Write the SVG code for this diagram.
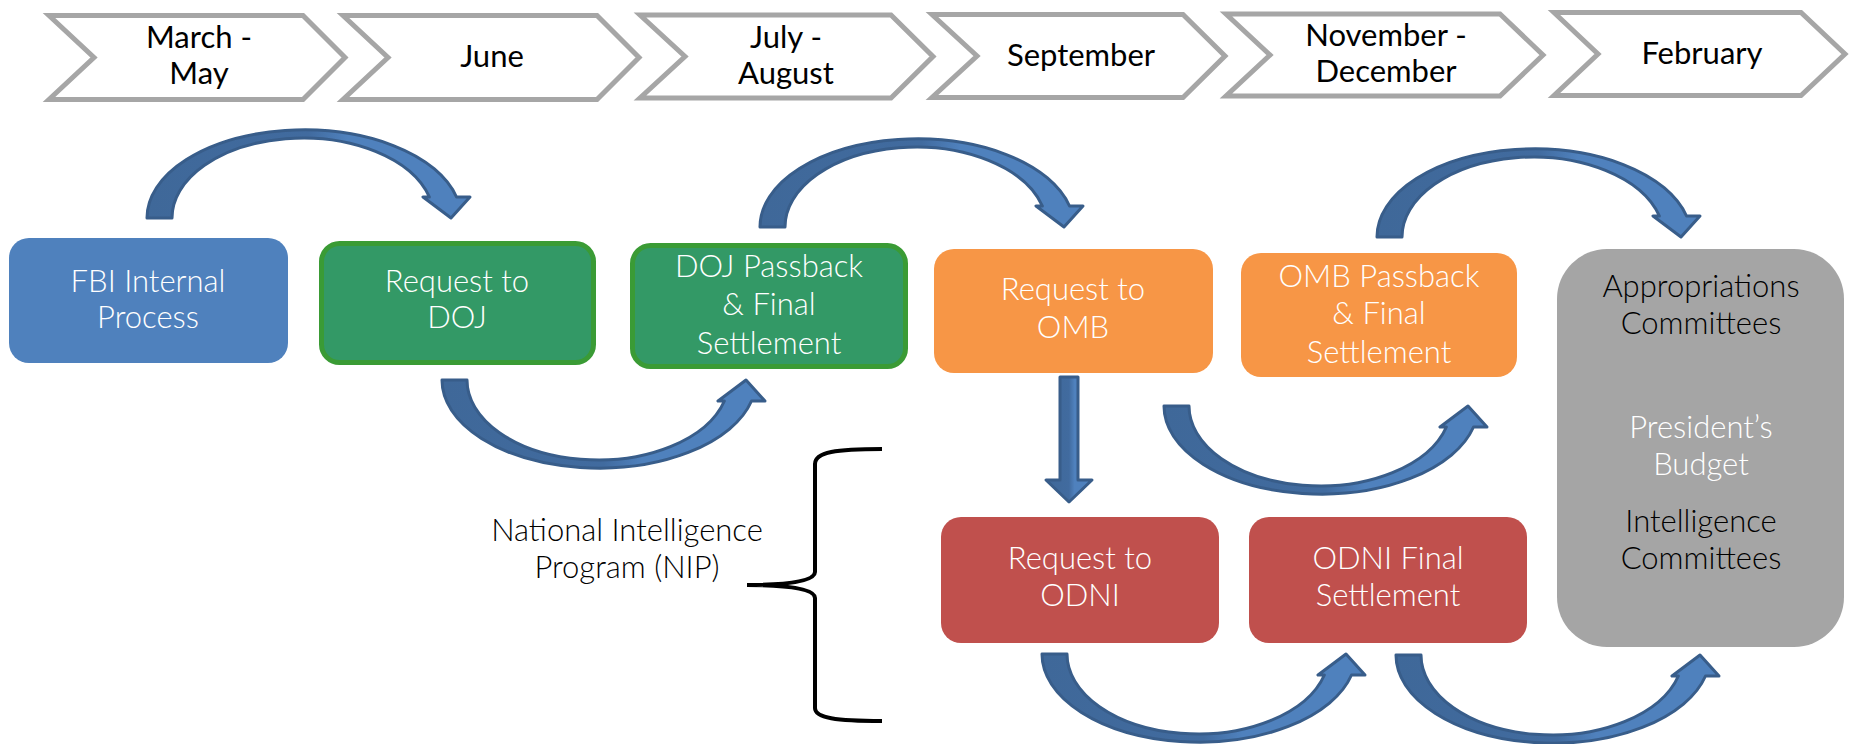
<svg xmlns="http://www.w3.org/2000/svg" xmlns:xlink="http://www.w3.org/1999/xlink" width="1854" height="744" viewBox="0 0 1854 744">
<style>
.chev{fill:#ffffff;stroke:#a6a6a6;stroke-width:5;stroke-linejoin:miter}
.ct{font-family:Lato,"Open Sans",sans-serif;font-size:31px;fill:#000000;text-anchor:middle;font-weight:400}
.wt{font-family:Lato,"Open Sans",sans-serif;font-size:31px;fill:#ffffff;text-anchor:middle;font-weight:300}
.bt{font-family:Lato,"Open Sans",sans-serif;font-size:31px;fill:#000000;text-anchor:middle;font-weight:300}
.blue{fill:#4f81bd}
.green{fill:#339966;stroke:#3a9b35;stroke-width:5}
.orange{fill:#f79646}
.red{fill:#c0504d}
.gray{fill:#a5a5a5}
.arr{fill:url(#arrGrad);stroke:#385d8a;stroke-width:3;stroke-linejoin:round}
.brace{fill:none;stroke:#000000;stroke-width:4}
</style>
<defs>
<linearGradient id="arrGrad" x1="0" y1="0" x2="1" y2="0">
<stop offset="0" stop-color="#3f6899"/>
<stop offset="0.5" stop-color="#416b9f"/>
<stop offset="0.62" stop-color="#4f81bd"/>
<stop offset="1" stop-color="#4f81bd"/>
</linearGradient>
<path id="curve" class="arr" d="M0,0 A157,88 0 0 1 309.5,-21 L323,-21 L304,0 L276,-21 L282.4,-21 A131,80 0 0 0 25,0 Z"/>
</defs>
<rect x="0" y="0" width="1854" height="744" fill="#ffffff"/>

<g id="timeline">
<g id="chev-march"><polygon class="chev" points="49,15.5 303,15.5 345,57.5 303,99.5 49,99.5 94,57.5"/><text class="ct" x="199" y="48">March -</text><text class="ct" x="199" y="84">May</text></g>
<g id="chev-june"><polygon class="chev" points="343,15.5 597,15.5 639,57.5 597,99.5 343,99.5 388,57.5"/><text class="ct" x="492" y="67">June</text></g>
<g id="chev-july"><polygon class="chev" points="640,15 891,15 933,56.5 891,98 640,98 685,56.5"/><text class="ct" x="786" y="48">July -</text><text class="ct" x="786" y="84">August</text></g>
<g id="chev-sept"><polygon class="chev" points="932,14.5 1183,14.5 1225,56 1183,97.5 932,97.5 977,56"/><text class="ct" x="1081" y="66">September</text></g>
<g id="chev-nov"><polygon class="chev" points="1226,14 1500,14 1543,55 1500,96 1226,96 1270,55"/><text class="ct" x="1386" y="46">November -</text><text class="ct" x="1386" y="82">December</text></g>
<g id="chev-feb"><polygon class="chev" points="1554,12.5 1801,12.5 1845,54 1801,95.5 1554,95.5 1598,54"/><text class="ct" x="1702" y="64">February</text></g>
</g>

<g id="connectors">
<use xlink:href="#curve" transform="translate(147,218)"/>
<use xlink:href="#curve" transform="translate(442,380) scale(1,-1)"/>
<use xlink:href="#curve" transform="translate(760,227)"/>
<use xlink:href="#curve" transform="translate(1164,406) scale(1,-1)"/>
<use xlink:href="#curve" transform="translate(1377,237)"/>
<use xlink:href="#curve" transform="translate(1042,654) scale(1,-1)"/>
<use xlink:href="#curve" transform="translate(1396,655) scale(1,-1)"/>
<path class="arr" d="M1060,377 L1078,377 L1078,480 L1092,480 L1069,502 L1046,480 L1060,480 Z"/>
</g>

<g id="node-fbi"><rect class="blue" x="9" y="238" width="279" height="125" rx="20"/><text class="wt" x="148" y="292">FBI Internal</text><text class="wt" x="148" y="328">Process</text></g>
<g id="node-doj-request"><rect class="green" x="321.5" y="243.5" width="272" height="119" rx="18"/><text class="wt" x="457" y="292">Request to</text><text class="wt" x="457" y="328">DOJ</text></g>
<g id="node-doj-passback"><rect class="green" x="632.5" y="245.5" width="273" height="121" rx="18"/><text class="wt" x="769" y="277">DOJ Passback</text><text class="wt" x="769" y="315">&amp; Final</text><text class="wt" x="769" y="354">Settlement</text></g>
<g id="node-omb-request"><rect class="orange" x="934" y="249" width="279" height="124" rx="20"/><text class="wt" x="1073" y="300">Request to</text><text class="wt" x="1073" y="338">OMB</text></g>
<g id="node-omb-passback"><rect class="orange" x="1241" y="253" width="276" height="124" rx="20"/><text class="wt" x="1379" y="287">OMB Passback</text><text class="wt" x="1379" y="324">&amp; Final</text><text class="wt" x="1379" y="363">Settlement</text></g>
<g id="node-congress"><rect class="gray" x="1557" y="249" width="287" height="398" rx="50"/><text class="bt" x="1701" y="297">Appropriations</text><text class="bt" x="1701" y="334">Committees</text><text class="wt" x="1701" y="438">President’s</text><text class="wt" x="1701" y="475">Budget</text><text class="bt" x="1701" y="532">Intelligence</text><text class="bt" x="1701" y="569">Committees</text></g>
<g id="node-odni-request"><rect class="red" x="941" y="517" width="278" height="126" rx="20"/><text class="wt" x="1080" y="569">Request to</text><text class="wt" x="1080" y="606">ODNI</text></g>
<g id="node-odni-final"><rect class="red" x="1249" y="517" width="278" height="126" rx="20"/><text class="wt" x="1388" y="569">ODNI Final</text><text class="wt" x="1388" y="606">Settlement</text></g>

<g id="nip-label">
<path class="brace" d="M882,449 C836,449 815,452 815,464 L815,572 C815,580 795,585 747,585 C795,585 815,590 815,598 L815,708 C815,718 836,721 882,721"/>
<text class="bt" x="627" y="541">National Intelligence</text><text class="bt" x="627" y="578">Program (NIP)</text>
</g>
</svg>
